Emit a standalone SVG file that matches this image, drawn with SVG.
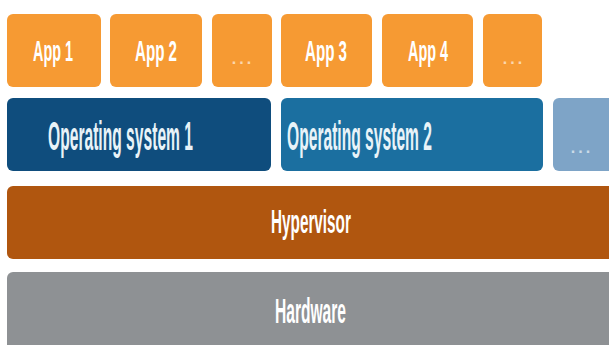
<svg xmlns="http://www.w3.org/2000/svg" width="609" height="345" viewBox="0 0 609 345">
  <style>
    .lbl { font-family: "Liberation Sans", Arial, sans-serif; font-weight: bold; fill: #ffffff; }
    .dots { font-family: "Liberation Sans", Arial, sans-serif; font-weight: bold; fill: #ffffff; opacity: 0.6; font-size: 16px; letter-spacing: 3px; text-anchor: middle; }
    .app { fill: #f69a33; }
    .os1 { fill: #0f4d7d; }
    .os2 { fill: #1b6fa0; }
    .osx { fill: #7ea4c7; }
    .hyp { fill: #b0560f; }
    .hw  { fill: #8e9194; }
    .oslbl { fill: #e8f3f8; }
  </style>
  <rect width="609" height="345" fill="#ffffff"/>

  <!-- application row; labels are drawn narrow with a horizontal scale -->
  <g id="app1">
    <rect class="app" x="7" y="14" width="94" height="73" rx="6"/>
    <text class="lbl" font-size="29" transform="translate(33,61) scale(0.496,1)" textLength="80.6" lengthAdjust="spacingAndGlyphs">App 1</text>
  </g>
  <g id="app2">
    <rect class="app" x="110" y="14" width="92" height="73" rx="6"/>
    <text class="lbl" font-size="29" transform="translate(135,61) scale(0.521,1)" textLength="80.6" lengthAdjust="spacingAndGlyphs">App 2</text>
  </g>
  <g id="app-more-1">
    <rect class="app" x="212" y="14" width="60" height="73" rx="6"/>
    <text class="dots" x="243" y="64">...</text>
  </g>
  <g id="app3">
    <rect class="app" x="281" y="14" width="91" height="73" rx="6"/>
    <text class="lbl" font-size="29" transform="translate(305,61) scale(0.521,1)" textLength="80.6" lengthAdjust="spacingAndGlyphs">App 3</text>
  </g>
  <g id="app4">
    <rect class="app" x="382" y="14" width="91" height="73" rx="6"/>
    <text class="lbl" font-size="29" transform="translate(408,61) scale(0.496,1)" textLength="80.6" lengthAdjust="spacingAndGlyphs">App 4</text>
  </g>
  <g id="app-more-2">
    <rect class="app" x="483" y="14" width="59" height="73" rx="6"/>
    <text class="dots" x="514" y="64">...</text>
  </g>

  <!-- operating system row -->
  <g id="os1">
    <rect class="os1" x="7" y="98" width="264" height="73" rx="6"/>
    <text class="lbl oslbl" font-size="40" transform="translate(48,150) scale(0.3906,1)" textLength="371.2" lengthAdjust="spacingAndGlyphs">Operating system 1</text>
  </g>
  <g id="os2">
    <rect class="os2" x="281" y="98" width="262" height="73" rx="6"/>
    <text class="lbl oslbl" font-size="40" transform="translate(287,150) scale(0.3906,1)" textLength="371.2" lengthAdjust="spacingAndGlyphs">Operating system 2</text>
  </g>
  <g id="os-more">
    <rect class="osx" x="553" y="98" width="66" height="73" rx="6"/>
    <text class="dots" x="582" y="153">...</text>
  </g>

  <!-- hypervisor layer -->
  <g id="hypervisor">
    <rect class="hyp" x="7" y="186" width="612" height="73" rx="6"/>
    <text class="lbl" font-size="34" transform="translate(271,233) scale(0.45,1)" textLength="177.6" lengthAdjust="spacingAndGlyphs">Hypervisor</text>
  </g>

  <!-- hardware layer -->
  <g id="hardware">
    <rect class="hw" x="7" y="272" width="612" height="80" rx="6"/>
    <text class="lbl" font-size="36" transform="translate(275,323) scale(0.433,1)" textLength="164" lengthAdjust="spacingAndGlyphs">Hardware</text>
  </g>

  <g id="connectors"/>
</svg>
